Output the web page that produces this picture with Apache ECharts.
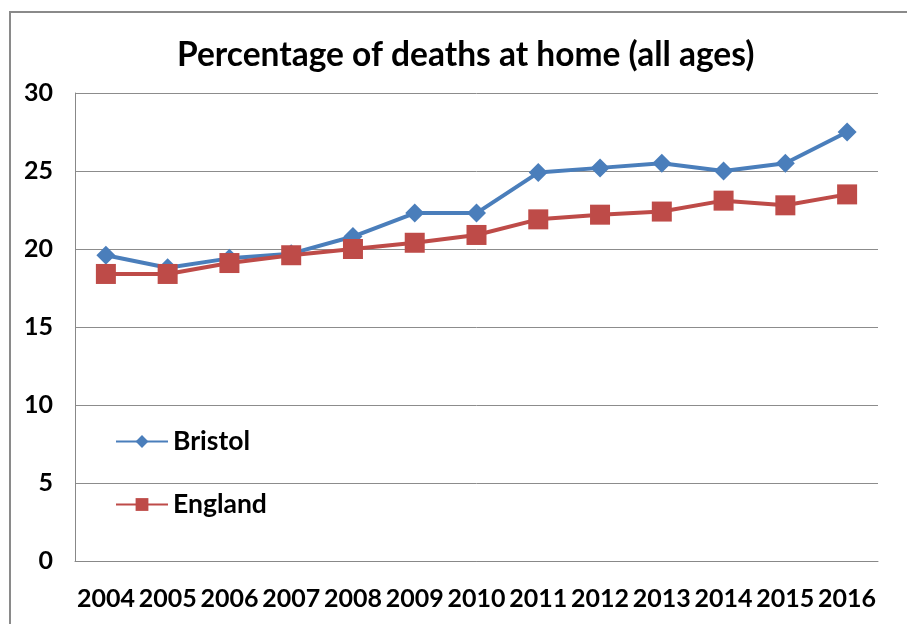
<!DOCTYPE html>
<html>
<head>
<meta charset="utf-8">
<script src="https://cdn.jsdelivr.net/npm/echarts@6/dist/echarts.min.js"></script>
<style>
html,body{margin:0;padding:0;background:#fff;}
#chart{width:907px;height:624px;}
</style>
</head>
<body>
<div id="chart"></div>
<script>
const categories = ['2004','2005','2006','2007','2008','2009','2010','2011','2012','2013','2014','2015','2016'];
const bristol = [19.6, 18.8, 19.4, 19.7, 20.8, 22.3, 22.3, 24.9, 25.2, 25.5, 25.0, 25.5, 27.5];
const england = [18.4, 18.4, 19.1, 19.6, 20.0, 20.4, 20.9, 21.9, 22.2, 22.4, 23.1, 22.8, 23.5];
const yTicks = [0, 5, 10, 15, 20, 25, 30];

const FONT = 'Lato, "Open Sans", sans-serif';
const chart = echarts.init(document.getElementById('chart'));
chart.setOption({
  backgroundColor: '#fff',
  animation: false,
  graphic: [{
    type: 'rect',
    shape: { x: 10, y: 12, width: 1000, height: 1000 },
    style: { fill: 'none', stroke: '#8a8a8a', lineWidth: 2 },
    silent: true, z: -1
  }],
  title: {
    text: 'Percentage of deaths at home (all ages)',
    left: 172,
    top: 33,
    textStyle: { fontFamily: FONT, fontWeight: 'bold', fontSize: 33.5, color: '#000' }
  },
  legend: {
    orient: 'vertical',
    left: 110,
    top: 423,
    itemGap: 36,
    itemWidth: 52,
    itemHeight: 16,
    textStyle: { fontFamily: FONT, fontWeight: 'bold', fontSize: 26.5, color: '#000' },
    data: ['Bristol', 'England']
  },
  grid: { left: 75, right: 29, top: 93, bottom: 63, containLabel: false },
  xAxis: {
    type: 'category',
    data: categories,
    boundaryGap: true,
    axisLine: { lineStyle: { color: '#888', width: 1 } },
    axisTick: { show: false },
    axisLabel: { fontFamily: FONT, fontWeight: 'bold', fontSize: 25, color: '#000', margin: 25, interval: 0 }
  },
  yAxis: {
    type: 'value',
    min: yTicks[0],
    max: yTicks[yTicks.length - 1],
    interval: 5,
    axisLine: { show: true, lineStyle: { color: '#888', width: 1 } },
    axisTick: { show: false },
    splitLine: { lineStyle: { color: '#8c8c8c', width: 1 } },
    axisLabel: { fontFamily: FONT, fontWeight: 'bold', fontSize: 25, color: '#000', margin: 22 }
  },
  series: [
    {
      name: 'Bristol',
      type: 'line',
      data: bristol,
      symbol: 'diamond',
      symbolSize: 19,
      lineStyle: { color: '#4A7EBB', width: 4 },
      itemStyle: { color: '#4A7EBB' },
      z: 2
    },
    {
      name: 'England',
      type: 'line',
      data: england,
      symbol: 'rect',
      symbolSize: 20,
      lineStyle: { color: '#BE4B48', width: 4 },
      itemStyle: { color: '#BE4B48' },
      z: 3
    }
  ]
});
</script>
</body>
</html>
